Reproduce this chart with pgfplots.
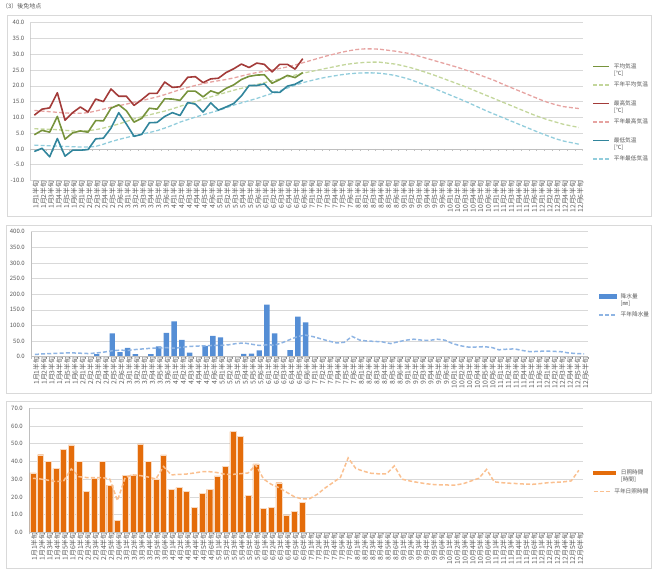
\documentclass[border=0pt]{standalone}
\usepackage{pgfplots}
\pgfplotsset{compat=1.18}
\usepackage{pgfplotstable}
\usepackage{fontspec}
\setmainfont{Noto Sans CJK JP}

\definecolor{cavg}{HTML}{77933C}
\definecolor{cnavg}{HTML}{C3D69B}
\definecolor{cmax}{HTML}{A33B39}
\definecolor{cnmax}{HTML}{E6A3A1}
\definecolor{cmin}{HTML}{31859C}
\definecolor{cnmin}{HTML}{92CDDC}
\definecolor{cprec}{HTML}{558ED5}
\definecolor{cnprec}{HTML}{8EB4E3}
\definecolor{csun}{HTML}{E46C0A}
\definecolor{cnsun}{HTML}{FAC090}
\definecolor{cgrid}{HTML}{D9D9D9}
\definecolor{caxis}{HTML}{BFBFBF}
\definecolor{ctext}{HTML}{595959}

\newcommand{\twol}[2]{\begin{tabular}[t]{@{}l@{}}#1\\{}#2\end{tabular}}

\pgfplotstableread{
x tavg tmax tmin prec sun
0 4.5 10.7 -0.8 0 33.5
1 5.9 12.6 0.2 0 43.8
2 5.3 13.0 -2.5 0 39.9
3 10.3 17.8 3.3 0 36.1
4 3.1 9.1 -2.3 0 47.0
5 5.1 11.5 -0.4 0 49.3
6 5.7 13.3 -0.4 0 40.1
7 5.3 11.7 -0.2 1 23.3
8 9.0 15.8 3.2 8 30.5
9 8.9 15.0 3.4 0 40.1
10 12.9 19.0 6.6 75 26.7
11 14.0 16.7 11.5 15 6.6
12 12.1 16.7 7.9 28 32.0
13 8.5 13.8 4.0 8 32.4
14 9.7 15.6 4.6 0 49.9
15 12.9 17.6 8.3 8 39.9
16 12.6 17.6 8.4 33 30.1
17 15.9 21.2 10.3 76 43.7
18 15.8 19.5 11.5 113 24.3
19 15.4 19.7 10.6 54 25.2
20 18.3 22.7 14.7 13 23.3
21 18.3 22.9 14.2 1 13.9
22 16.5 21.0 11.7 35 22.0
23 18.4 22.2 14.6 67 24.3
24 17.6 22.4 12.3 62 31.8
25 19.2 24.2 13.3 0 37.1
26 20.3 25.4 14.4 0 56.8
27 22.0 26.9 16.8 9 54.2
28 23.0 25.8 20.1 10 20.7
29 23.4 27.2 20.1 20 38.6
30 23.5 26.8 20.6 167 13.7
31 20.8 24.4 18.0 75 14.1
32 22.0 26.8 17.9 0 28.0
33 23.3 26.8 19.9 21 9.8
34 22.6 25.3 20.5 128 11.7
35 24.2 28.6 21.8 110 16.9
}\obs

\pgfplotstableread{
x navg nmax nmin nprec nsun
0 6.4 12.2 1.2 7 30.5
1 6.3 12.0 1.1 9 30.1
2 6.2 11.8 1.0 10 29.4
3 6.1 11.6 0.9 11 28.6
4 5.9 11.4 0.8 12 29.0
5 5.7 11.3 0.7 12 35.8
6 5.7 11.3 0.6 11 31.4
7 5.8 11.5 0.6 10 30.9
8 6.1 12.0 0.8 12 30.9
9 6.6 12.6 1.5 15 30.9
10 7.2 13.2 2.3 19 30.1
11 7.9 13.7 3.0 21 17.9
12 8.7 14.2 3.6 20 30.9
13 9.5 14.8 4.2 23 32.4
14 10.2 15.3 4.7 25 32.0
15 10.8 15.9 5.2 27 31.2
16 11.4 16.5 5.8 28 30.1
17 12.0 17.2 6.6 29 37.1
18 12.7 18.0 7.5 27 32.4
19 13.5 18.8 8.5 30 32.7
20 14.3 19.5 9.3 33 32.9
21 15.0 20.1 10.1 34 33.5
22 15.8 20.7 10.8 35 34.2
23 16.5 21.2 11.5 36 34.2
24 17.2 21.6 12.2 36 33.7
25 17.9 22.0 13.0 38 32.7
26 18.6 22.5 13.9 42 32.7
27 19.2 23.1 14.6 44 33.1
28 19.8 23.7 15.3 40 33.5
29 20.4 24.2 16.0 36 38.0
30 21.0 24.6 16.8 38 30.1
31 21.6 25.0 17.6 37 27.1
32 22.2 25.5 18.4 45 25.2
33 22.8 26.0 19.3 55 22.6
34 23.4 26.6 20.2 65 20.1
35 24.0 27.3 21.0 69 18.8
36 24.5 28.0 21.6 64 19.0
37 25.0 28.7 22.2 57 21.5
38 25.5 29.4 22.7 50 25.0
39 26.0 30.0 23.1 44 28.0
40 26.5 30.6 23.5 46 31.0
41 26.9 31.1 23.8 65 42.0
42 27.2 31.5 24.0 53 36.0
43 27.4 31.7 24.1 50 34.5
44 27.5 31.7 24.1 49 33.3
45 27.5 31.6 24.0 47 33.0
46 27.2 31.3 23.7 42 33.0
47 26.9 31.0 23.3 48 37.5
48 26.4 30.6 22.7 53 30.0
49 25.8 30.2 22.0 56 29.0
50 25.1 29.5 21.1 53 28.2
51 24.3 28.8 20.2 52 27.5
52 23.5 28.1 19.3 56 27.0
53 22.6 27.4 18.3 53 26.8
54 21.7 26.7 17.3 42 26.7
55 20.8 26.0 16.3 35 26.7
56 19.9 25.2 15.3 31 27.5
57 18.9 24.4 14.2 31 29.0
58 17.9 23.5 13.1 32 30.5
59 16.9 22.6 12.0 30 35.5
60 15.9 21.7 11.0 22 28.5
61 14.9 20.6 10.0 24 28.0
62 13.9 19.6 9.0 25 27.7
63 12.9 18.6 8.0 20 27.5
64 11.9 17.6 7.0 16 27.2
65 10.9 16.6 6.0 17 27.1
66 10.0 15.6 5.0 18 27.5
67 9.2 14.7 4.1 17 28.0
68 8.5 14.0 3.2 16 28.2
69 7.8 13.4 2.5 12 28.5
70 7.3 13.1 2.0 10 29.0
71 6.8 12.8 1.5 9 35.0
}\norm

\pgfplotsset{
  obsline/.style={line width=1.6bp, line join=round, mark=none},
  nline/.style={line width=1.3bp, dash pattern=on 4bp off 2.2bp, mark=none},
  panel/.style={
    scale only axis, anchor=south west,
    xmin=-0.5, xmax=71.5,
    xtick={0,...,71},
    xticklabels={1月1半旬,1月2半旬,1月3半旬,1月4半旬,1月5半旬,1月6半旬,
      2月1半旬,2月2半旬,2月3半旬,2月4半旬,2月5半旬,2月6半旬,
      3月1半旬,3月2半旬,3月3半旬,3月4半旬,3月5半旬,3月6半旬,
      4月1半旬,4月2半旬,4月3半旬,4月4半旬,4月5半旬,4月6半旬,
      5月1半旬,5月2半旬,5月3半旬,5月4半旬,5月5半旬,5月6半旬,
      6月1半旬,6月2半旬,6月3半旬,6月4半旬,6月5半旬,6月6半旬,
      7月1半旬,7月2半旬,7月3半旬,7月4半旬,7月5半旬,7月6半旬,
      8月1半旬,8月2半旬,8月3半旬,8月4半旬,8月5半旬,8月6半旬,
      9月1半旬,9月2半旬,9月3半旬,9月4半旬,9月5半旬,9月6半旬,
      10月1半旬,10月2半旬,10月3半旬,10月4半旬,10月5半旬,10月6半旬,
      11月1半旬,11月2半旬,11月3半旬,11月4半旬,11月5半旬,11月6半旬,
      12月1半旬,12月2半旬,12月3半旬,12月4半旬,12月5半旬,12月6半旬},
    x tick label style={rotate=90, anchor=east, font=\fontsize{6.8}{6.8}\selectfont, text=ctext, inner sep=0pt, yshift=-1.5bp},
    y tick label style={font=\fontsize{6}{6}\selectfont, text=ctext, inner sep=0pt, xshift=-6bp},
    /pgf/number format/assume math mode=true,
    yticklabel style={/pgf/number format/fixed, /pgf/number format/fixed zerofill, /pgf/number format/precision=1},
    major tick length=0pt,
    minor tick length=2bp, tick align=outside, xtick pos=bottom, ytick pos=left,
    minor x tick style={caxis, line width=0.5bp},
    ymajorgrids, grid style={cgrid, line width=0.6bp},
    axis line style={draw=none},
    legend style={draw=none, fill=none, font=\fontsize{5.7}{7}\selectfont, text=ctext,
      cells={anchor=base west}, inner sep=0pt, row sep=8.2bp, column sep=2bp},
  }
}

\begin{document}
\begin{tikzpicture}
\path (0bp,0bp) rectangle (660bp,578bp);
\draw[cgrid, line width=0.75bp] (7bp,362bp) rectangle (651.7bp,563bp);
\draw[cgrid, line width=0.75bp] (6.7bp,184.7bp) rectangle (651.7bp,353bp);
\draw[cgrid, line width=0.75bp] (6.7bp,9.7bp) rectangle (651.7bp,176.3bp);
\node[anchor=west, font=\fontsize{6}{6}\selectfont, text=ctext, inner sep=0pt] at (2bp,572bp) {（3）後免地点};

% Panel 1: temperature
\begin{axis}[panel, at={(30.5bp,397.5bp)}, width=552.2bp, height=157.8bp,
  ymin=-10, ymax=40, ytick={-10,-5,...,40},
  legend image code/.code={\draw[#1] (0bp,1.8bp) -- (16bp,1.8bp);},
  legend style={at={(axis description cs:1.017,0.757)}, anchor=north west}]
\draw[caxis, line width=0.6bp] (axis cs:-0.5,-10) -- (axis cs:-0.5,40);
\draw[caxis, line width=0.6bp] (axis cs:-0.5,0) -- (axis cs:71.5,0);
\pgfplotsinvokeforeach{0,...,72}{\draw[caxis, line width=0.5bp] (axis cs:#1-0.5,0) -- ++(0bp,-2bp);}
\addplot[forget plot, cnmax, nline] table[x=x,y=nmax]{\norm};
\addplot[forget plot, cnavg, nline] table[x=x,y=navg]{\norm};
\addplot[forget plot, cnmin, nline] table[x=x,y=nmin]{\norm};
\addplot[forget plot, cmax, obsline] table[x=x,y=tmax]{\obs};
\addplot[forget plot, cavg, obsline] table[x=x,y=tavg]{\obs};
\addplot[forget plot, cmin, obsline] table[x=x,y=tmin]{\obs};
\addlegendimage{cavg, obsline}
\addlegendentry{\twol{平均気温}{[℃]}}
\addlegendimage{cnavg, nline}
\addlegendentry{\twol{平年平均気温}{\mbox{}}}
\addlegendimage{cmax, obsline}
\addlegendentry{\twol{最高気温}{[℃]}}
\addlegendimage{cnmax, nline}
\addlegendentry{\twol{平年最高気温}{\mbox{}}}
\addlegendimage{cmin, obsline}
\addlegendentry{\twol{最低気温}{[℃]}}
\addlegendimage{cnmin, nline}
\addlegendentry{\twol{平年最低気温}{\mbox{}}}
\end{axis}

% Panel 2: precipitation
\begin{axis}[panel, at={(31bp,221.3bp)}, width=557bp, height=125bp,
  ymin=0, ymax=400, ytick={0,50,...,400},
  minor xtick={-0.5,0.5,...,71.5},
  legend image code/.code={\draw[#1] (0bp,1.8bp) -- (17bp,1.8bp);},
  legend style={at={(axis description cs:1.018,0.525)}, anchor=north west}]
\draw[caxis, line width=0.6bp] (axis cs:-0.5,0) -- (axis cs:-0.5,400);
\addplot[forget plot, ybar, bar width=0.7, fill=cprec, draw=none] table[x=x,y=prec]{\obs};
\addplot[forget plot, cnprec, nline, line width=1.5bp] table[x=x,y=nprec]{\norm};
\draw[caxis, line width=0.6bp] (axis cs:-0.5,0) -- (axis cs:71.5,0);
\addlegendimage{legend image code/.code={\fill[cprec] (0bp,0.1bp) rectangle (17bp,3.5bp);}}
\addlegendentry{\twol{降水量}{[㎜]}}
\addlegendimage{cnprec, nline, line width=1.5bp}
\addlegendentry{\twol{平年降水量}{\mbox{}}}
\end{axis}

% Panel 3: sunshine
\begin{axis}[panel, at={(29bp,45.7bp)}, width=553.7bp, height=124bp,
  ymin=0, ymax=70, ytick={0,10,...,70},
  minor xtick={-0.5,0.5,...,71.5},
  legend image code/.code={\draw[#1] (0bp,1.8bp) -- (16bp,1.8bp);},
  legend style={at={(axis description cs:1.018,0.523)}, anchor=north west}]
\draw[caxis, line width=0.6bp] (axis cs:-0.5,0) -- (axis cs:-0.5,70);
\addplot[forget plot, ybar, bar width=0.78, fill=csun, draw=white!75!csun, line width=0.4bp] table[x=x,y=sun]{\obs};
\addplot[forget plot, cnsun, nline, line width=1.5bp] table[x=x,y=nsun]{\norm};
\draw[caxis, line width=0.6bp] (axis cs:-0.5,0) -- (axis cs:71.5,0);
\addlegendimage{legend image code/.code={\fill[csun, overlay] (0bp,0.1bp) rectangle (22bp,3.5bp);}}
\addlegendentry{\twol{\hspace*{6.5bp}日照時間}{\hspace*{6.5bp}[時間]}}
\addlegendimage{cnsun, nline, line width=1.5bp}
\addlegendentry{\twol{平年日照時間}{\mbox{}}}
\end{axis}
\end{tikzpicture}
\end{document}
